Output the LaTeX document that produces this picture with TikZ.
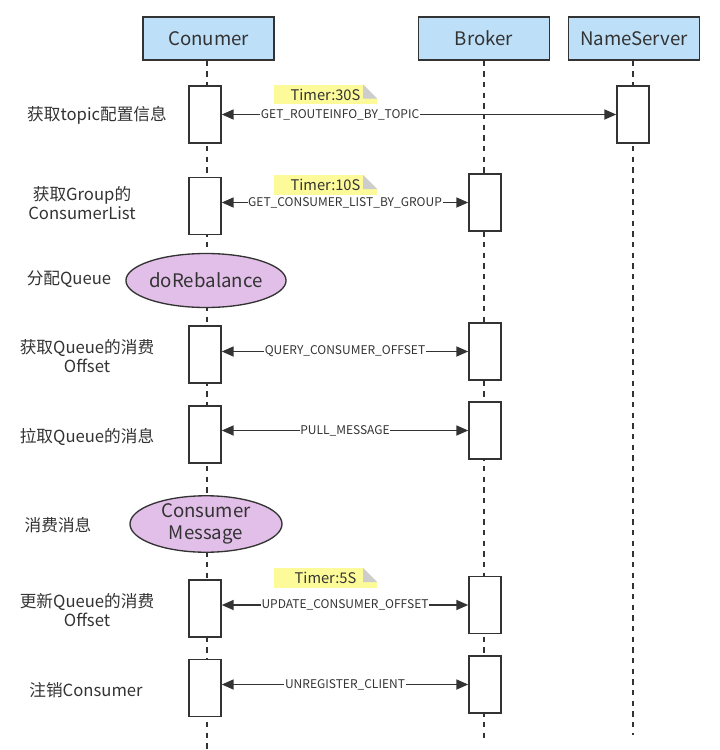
\documentclass[tikz,border=0pt]{standalone}
\usepackage{fontspec}
\setmainfont{Noto Sans CJK SC}
\usetikzlibrary{arrows.meta, positioning, shapes.geometric, calc}
\definecolor{ink}{HTML}{333333}
\definecolor{headblue}{HTML}{BDDFF8}
\definecolor{rebal}{HTML}{E2BFE8}
\definecolor{noteyellow}{HTML}{FDFA99}
\definecolor{foldgray}{HTML}{CDCDCD}
\tikzset{
  head/.style={draw=ink, fill=headblue, line width=1.1pt, minimum width=98pt,
    minimum height=32pt, inner sep=0pt, text=ink, font=\fontsize{14}{16}\selectfont},
  lifeline/.style={draw=ink, line width=0.9pt, dash pattern=on 4pt off 4pt},
  actbox/.style={draw=ink, fill=white, line width=1.1pt, minimum width=24pt,
    minimum height=42.5pt, inner sep=0pt},
  phase/.style={ellipse, draw=ink, fill=rebal, line width=1pt, minimum width=114pt,
    minimum height=40.5pt, inner sep=0pt, align=center, text=ink,
    font=\fontsize{14}{16}\selectfont},
  stepname/.style={align=center, text=ink, font=\fontsize{12.5}{14.5}\selectfont},
  call/.style={draw=ink, line width=1.3pt,
    arrows={Triangle[length=9pt,width=7.5pt]-Triangle[length=9pt,width=7.5pt]}},
  callname/.style={fill=white, inner sep=0.5pt, text=ink, font=\fontsize{9}{10}\selectfont},
  timer/.style={fill=noteyellow, minimum width=77pt, minimum height=14.5pt,
    inner sep=0pt, text=ink, font=\fontsize{11}{12}\selectfont}
}

\begin{document}
\begin{tikzpicture}[x=0.75pt, y=-0.75pt]
  \useasboundingbox (0,0) rectangle (720,750);
  % Participants
  \node[head] (cons) at (208.5,38.5) {Conumer};
  \node[head] (brok) at (484,38.5) {Broker};
  \node[head] (ns) at (634,38.5) {NameServer};
  % Lifelines
  \coordinate (cend) at (207,750);
  \coordinate (bend) at (484,740);
  \coordinate (nend) at (633,735);
  \draw[lifeline] (cons.south -| cend) -- (cend);
  \draw[lifeline] (brok) -- (bend);
  \draw[lifeline] (ns.south -| nend) -- (nend);
  % Activations
  \foreach \n/\x/\y in {c1/205/114.5, n1/633/114.5, c2/205/206, b2/485/202.5,
      c3/205/354.5, b3/485/351.5, c4/205/434.5, b4/485/430.5,
      c5/205/608.5, b5/485/605, c6/205/688, b6/485/684.5}
    \node[actbox] (\n) at (\x,\y) {};
  % Local steps
  \node[phase] (rebal) at (206,280.5) {doRebalance};
  \node[phase] (consume) at (206,524) {Consumer\\Message};
  % Calls
  \draw[call] (c1.east) -- (n1.west)
    node[callname, pos=0.3] {GET\_ROUTEINFO\_BY\_TOPIC};
  \foreach \a/\b/\t in {c2/b2/GET\_CONSUMER\_LIST\_BY\_GROUP,
      c3/b3/QUERY\_CONSUMER\_OFFSET, c4/b4/PULL\_MESSAGE,
      c5/b5/UPDATE\_CONSUMER\_OFFSET, c6/b6/UNREGISTER\_CLIENT}
    \draw[call] (\a.east |- \b.west) -- (\b.west) node[callname, midway] {\t};
  % Timers
  \node[timer] (t1) at (325.5,94.5) {Timer:30S};
  \node[timer] (t2) at (325.5,185) {Timer:10S};
  \node[timer] (t3) at (325.5,578) {Timer:5S};
  \foreach \t in {t1,t2,t3} {
    \fill[white] ($(\t.north east)+(-14,0)$) -- (\t.north east)
      -- ($(\t.north east)+(0,14)$) -- cycle;
    \fill[foldgray] ($(\t.north east)+(-14,0)$) -- ($(\t.north east)+(-14,14)$)
      -- ($(\t.north east)+(0,14)$) -- cycle;
  }
  % Step names
  \node[stepname] (s1) at (97,115) {获取topic配置信息};
  \node[stepname] (s2) at (82,203) {获取Group的\\ConsumerList};
  \node[stepname] (s3) at (69,279) {分配Queue};
  \node[stepname] (s4) at (87,356) {获取Queue的消费\\Offset};
  \node[stepname] (s5) at (87,437) {拉取Queue的消息};
  \node[stepname] (s6) at (58,525) {消费消息};
  \node[stepname] (s7) at (87,610) {更新Queue的消费\\Offset};
  \node[stepname] (s8) at (86,690) {注销Consumer};
\end{tikzpicture}
\end{document}
